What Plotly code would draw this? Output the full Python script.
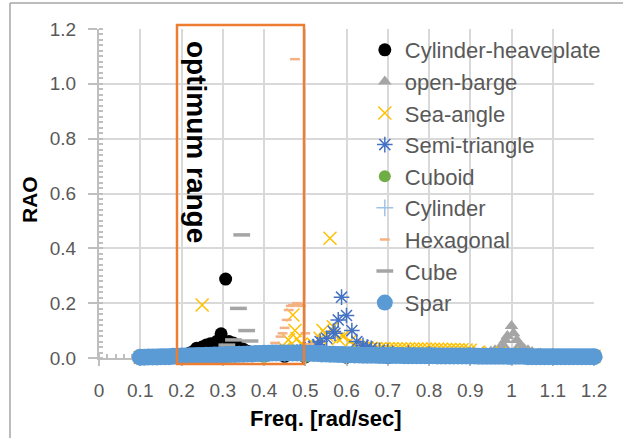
import plotly.graph_objects as go

# ---------------- data ----------------
ch_x = [0.10, 0.12, 0.14, 0.16, 0.18, 0.20, 0.21, 0.22, 0.23, 0.237, 0.25, 0.26, 0.27, 0.285, 0.296, 0.307,
        0.315, 0.325, 0.34, 0.35, 0.36, 0.38, 0.40, 0.45, 0.50, 0.60, 0.70, 0.80, 0.90, 1.00, 1.10, 1.20]
ch_y = [0.002, 0.003, 0.004, 0.005, 0.006, 0.008, 0.012, 0.018, 0.025, 0.036, 0.040, 0.047, 0.052, 0.060, 0.088, 0.288,
        0.060, 0.055, 0.040, 0.032, 0.025, 0.015, 0.010, 0.006, 0.004, 0.003, 0.002, 0.002, 0.001, 0.001, 0.001, 0.001]

ob_x = [0.10, 0.20, 0.30, 0.40, 0.50, 0.60, 0.70, 0.80, 0.86, 0.90, 0.93, 0.95, 0.96, 0.97, 0.98, 0.985, 0.99,
        1.00, 1.005, 1.013, 1.02, 1.03, 1.04, 1.05, 1.07, 1.10, 1.15, 1.20]
ob_y = [0.001, 0.002, 0.002, 0.003, 0.004, 0.005, 0.006, 0.008, 0.010, 0.015, 0.020, 0.024, 0.028, 0.035, 0.047, 0.066, 0.080,
        0.117, 0.090, 0.066, 0.047, 0.035, 0.028, 0.022, 0.016, 0.011, 0.008, 0.006]

sa_x = [0.10, 0.14, 0.18, 0.22, 0.25, 0.28, 0.32, 0.36, 0.40, 0.43, 0.45, 0.459, 0.47, 0.475, 0.48, 0.49, 0.50,
        0.52, 0.536, 0.543, 0.552, 0.56, 0.568, 0.58, 0.592, 0.608, 0.62,
        0.63, 0.64, 0.65, 0.66, 0.67, 0.68, 0.69, 0.70, 0.71, 0.72, 0.73, 0.74, 0.75, 0.76, 0.77, 0.78,
        0.79, 0.80, 0.81, 0.82, 0.83, 0.84, 0.85, 0.86, 0.87, 0.88, 0.89, 0.90,
        0.92, 0.95, 1.00, 1.05, 1.10, 1.15, 1.20]
sa_y = [0.002, 0.003, 0.004, 0.006, 0.193, 0.008, 0.010, 0.012, 0.016, 0.022, 0.035, 0.066, 0.157, 0.100, 0.070, 0.050, 0.040,
        0.050, 0.072, 0.100, 0.084, 0.437, 0.114, 0.070, 0.078, 0.060, 0.046,
        0.036, 0.035, 0.035, 0.035, 0.034, 0.034, 0.034, 0.034, 0.034, 0.033, 0.033, 0.033, 0.033, 0.033, 0.033, 0.033,
        0.032, 0.032, 0.032, 0.032, 0.032, 0.031, 0.031, 0.031, 0.030, 0.030, 0.029, 0.028,
        0.022, 0.018, 0.015, 0.012, 0.010, 0.008, 0.006]

st_x = [0.10, 0.20, 0.30, 0.40, 0.45, 0.48, 0.50, 0.51, 0.52, 0.53, 0.536, 0.552, 0.568, 0.572, 0.58, 0.588, 0.60,
        0.613, 0.625, 0.64, 0.65, 0.66, 0.68, 0.70, 0.75, 0.80, 0.90, 1.00, 1.10, 1.20]
st_y = [0.001, 0.002, 0.004, 0.008, 0.015, 0.022, 0.030, 0.036, 0.042, 0.048, 0.060, 0.072, 0.097, 0.090, 0.139, 0.222, 0.155,
        0.100, 0.060, 0.046, 0.040, 0.035, 0.028, 0.024, 0.018, 0.014, 0.010, 0.008, 0.006, 0.005]

cu_x = [0.10, 0.20, 0.30, 0.40, 0.50, 0.60, 0.70, 0.80, 0.90, 1.00, 1.10, 1.20]
cu_y = [0.001, 0.002, 0.003, 0.004, 0.004, 0.003, 0.003, 0.002, 0.002, 0.002, 0.001, 0.001]

cy_x = [0.10, 0.20, 0.30, 0.40, 0.50, 0.60, 0.70, 0.80, 0.90, 1.00, 1.10, 1.20]
cy_y = [0.002, 0.003, 0.004, 0.005, 0.006, 0.005, 0.004, 0.003, 0.003, 0.002, 0.002, 0.002]

hx_x = [0.10, 0.20, 0.30, 0.36, 0.40, 0.42, 0.427, 0.44, 0.445, 0.45, 0.455, 0.46, 0.465, 0.47, 0.475, 0.48, 0.485,
        0.49, 0.50, 0.51, 0.52, 0.54, 0.58, 0.65, 0.75, 0.90, 1.05, 1.20]
hx_y = [0.001, 0.002, 0.004, 0.010, 0.025, 0.040, 0.055, 0.078, 0.090, 0.110, 0.139, 0.175, 0.190, 0.193, 1.090, 0.200, 0.195,
        0.190, 0.090, 0.050, 0.030, 0.020, 0.012, 0.008, 0.005, 0.004, 0.003, 0.002]

cb_x = [0.10, 0.20, 0.26, 0.29, 0.30, 0.31, 0.326, 0.338, 0.346, 0.358, 0.366, 0.38, 0.40, 0.45, 0.55, 0.70, 0.90, 1.10, 1.20]
cb_y = [0.001, 0.004, 0.010, 0.020, 0.030, 0.047, 0.066, 0.181, 0.449, 0.100, 0.062, 0.035, 0.022, 0.012, 0.008, 0.005, 0.004, 0.003, 0.002]

sp_x = [0.10, 0.11, 0.12, 0.13, 0.14, 0.15, 0.16, 0.17, 0.18, 0.19, 0.20, 0.21, 0.22, 0.23, 0.24, 0.25,
        0.26, 0.27, 0.28, 0.29, 0.30, 0.31, 0.32, 0.33, 0.34, 0.35, 0.36, 0.37, 0.38, 0.39, 0.40, 0.41,
        0.42, 0.43, 0.44, 0.45, 0.46, 0.47, 0.48, 0.49, 0.50, 0.51, 0.52, 0.53, 0.54, 0.55, 0.56, 0.57,
        0.58, 0.59, 0.60, 0.61, 0.62, 0.63, 0.64, 0.65, 0.66, 0.67, 0.68, 0.69, 0.70, 0.71, 0.72, 0.73,
        0.74, 0.75, 0.76, 0.77, 0.78, 0.79, 0.80, 0.81, 0.82, 0.83, 0.84, 0.85, 0.86, 0.87, 0.88, 0.89,
        0.90, 0.91, 0.92, 0.93, 0.94, 0.95, 0.96, 0.97, 0.98, 0.99, 1.00, 1.01, 1.02, 1.03, 1.04, 1.05,
        1.06, 1.07, 1.08, 1.09, 1.10, 1.11, 1.12, 1.13, 1.14, 1.15, 1.16, 1.17, 1.18, 1.19, 1.20]
sp_y = [0.003, 0.003, 0.004, 0.004, 0.004, 0.005, 0.005, 0.005, 0.006, 0.006, 0.007, 0.007, 0.008, 0.008, 0.009, 0.009,
        0.010, 0.010, 0.011, 0.011, 0.012, 0.012, 0.013, 0.013, 0.014, 0.014, 0.015, 0.015, 0.016, 0.016, 0.017, 0.017,
        0.018, 0.018, 0.018, 0.018, 0.018, 0.018, 0.018, 0.018, 0.017, 0.017, 0.016, 0.016, 0.015, 0.015, 0.014, 0.014,
        0.013, 0.013, 0.012, 0.012, 0.011, 0.011, 0.010, 0.010, 0.010, 0.010, 0.009, 0.009, 0.009, 0.009, 0.009, 0.009,
        0.008, 0.008, 0.008, 0.008, 0.008, 0.008, 0.008, 0.008, 0.007, 0.007, 0.007, 0.007, 0.007, 0.007, 0.007, 0.007,
        0.007, 0.007, 0.006, 0.006, 0.006, 0.006, 0.006, 0.006, 0.006, 0.006, 0.006, 0.006, 0.006, 0.006, 0.005, 0.005,
        0.005, 0.005, 0.005, 0.005, 0.005, 0.005, 0.005, 0.005, 0.005, 0.005, 0.005, 0.005, 0.005, 0.005, 0.005]

series = [
    ("Cylinder-heaveplate", ch_x, ch_y, dict(symbol="circle", size=13, color="#000000")),
    ("open-barge", ob_x, ob_y, dict(symbol="triangle-up", size=12, color="#A5A5A5")),
    ("Sea-angle", sa_x, sa_y, dict(symbol="x-thin", size=13, color="#FFC000", line=dict(width=1.5, color="#FFC000"))),
    ("Semi-triangle", st_x, st_y, dict(symbol="asterisk", size=13, color="#4472C4", line=dict(width=1.5, color="#4472C4"))),
    ("Cuboid", cu_x, cu_y, dict(symbol="circle", size=12, color="#70AD47")),
    ("Cylinder", cy_x, cy_y, dict(symbol="cross-thin", size=12, color="#9DC3E6", line=dict(width=1.5, color="#9DC3E6"))),
    ("Hexagonal", hx_x, hx_y, dict(symbol="line-ew", size=7, color="#F4B183", line=dict(width=2.5, color="#F4B183"))),
    ("Cube", cb_x, cb_y, dict(symbol="line-ew", size=12, color="#A5A5A5", line=dict(width=3.5, color="#A5A5A5"))),
    ("Spar", sp_x, sp_y, dict(symbol="circle", size=17, color="#5B9BD5")),
]

fig = go.Figure()
for i, (name, xs, ys, mk) in enumerate(series):
    fig.add_trace(go.Scatter(x=xs, y=ys, mode="markers", name=name, marker=mk,
                             cliponaxis=False, legendgroup=str(i)))

tickfont = dict(family="Liberation Sans", size=19, color="#595959")
axcol = "#BFBFBF"

fig.update_layout(
    width=623, height=438,
    margin=dict(l=99, r=29, t=29, b=80),
    paper_bgcolor="white", plot_bgcolor="white",
    showlegend=True,
    legend=dict(x=0.537, y=1.0, xanchor="left", yanchor="top", bgcolor="rgba(0,0,0,0)",
                font=dict(family="Liberation Sans", size=22, color="#595959"),
                tracegroupgap=0, traceorder="grouped", maxheight=420),
    xaxis=dict(range=[0, 1.2], tickmode="linear", tick0=0, dtick=0.1, layer="below traces",
               showgrid=True, gridcolor="#D9D9D9", gridwidth=2, zeroline=False,
               showline=True, linecolor=axcol, linewidth=2,
               ticks="outside", ticklen=6, tickcolor=axcol, tickwidth=1.5,
               minor=dict(dtick=0.02, ticks="inside", ticklen=4, tickcolor=axcol, tickwidth=1.5, showgrid=False),
               tickfont=tickfont, ticklabelstandoff=8),
    yaxis=dict(range=[0, 1.2], tickmode="linear", tick0=0, dtick=0.2, tickformat=".1f", layer="below traces",
               showgrid=True, gridcolor="#D9D9D9", gridwidth=2, zeroline=False,
               showline=True, linecolor=axcol, linewidth=2,
               ticks="outside", ticklen=9, tickcolor=axcol, tickwidth=1.5,
               minor=dict(dtick=0.02, ticks="inside", ticklen=4, tickcolor=axcol, tickwidth=1.5, showgrid=False),
               tickfont=tickfont, ticklabelstandoff=8),
)

# optimum range box
fig.add_shape(type="rect", xref="paper", yref="paper",
              x0=(177 - 99) / 495, x1=(304 - 99) / 495, y0=-6 / 329, y1=1 + 4 / 329,
              line=dict(color="#ED7D31", width=2.5), fillcolor="rgba(0,0,0,0)")
fig.add_annotation(xref="paper", yref="paper", x=(197 - 99) / 495, y=(358 - 142) / 329,
                   xanchor="center", yanchor="middle",
                   text="<b>optimum range</b>", textangle=90, showarrow=False,
                   font=dict(family="Liberation Sans", size=28, color="#000000"))
# axis titles
fig.add_annotation(xref="paper", yref="paper", x=(326 - 99) / 495, y=(358 - 418) / 329,
                   xanchor="center", yanchor="middle",
                   text="<b>Freq. [rad/sec]</b>", showarrow=False,
                   font=dict(family="Liberation Sans", size=22, color="#000000"))
fig.add_annotation(xref="paper", yref="paper", x=(29 - 99) / 495, y=(358 - 200) / 329,
                   xanchor="center", yanchor="middle",
                   text="<b>RAO</b>", textangle=-90, showarrow=False,
                   font=dict(family="Liberation Sans", size=21, color="#000000"))
# outer frame lines
fig.add_shape(type="line", xref="paper", yref="paper", x0=(10 - 99) / 495, x1=(623 - 99) / 495,
              y0=(358 - 3) / 329, y1=(358 - 3) / 329, line=dict(color="#A6A6A6", width=1.5))
fig.add_shape(type="line", xref="paper", yref="paper", x0=(10 - 99) / 495, x1=(10 - 99) / 495,
              y0=(358 - 3) / 329, y1=(358 - 440) / 329, line=dict(color="#A6A6A6", width=1.5))

fig.write_html("out.html")
